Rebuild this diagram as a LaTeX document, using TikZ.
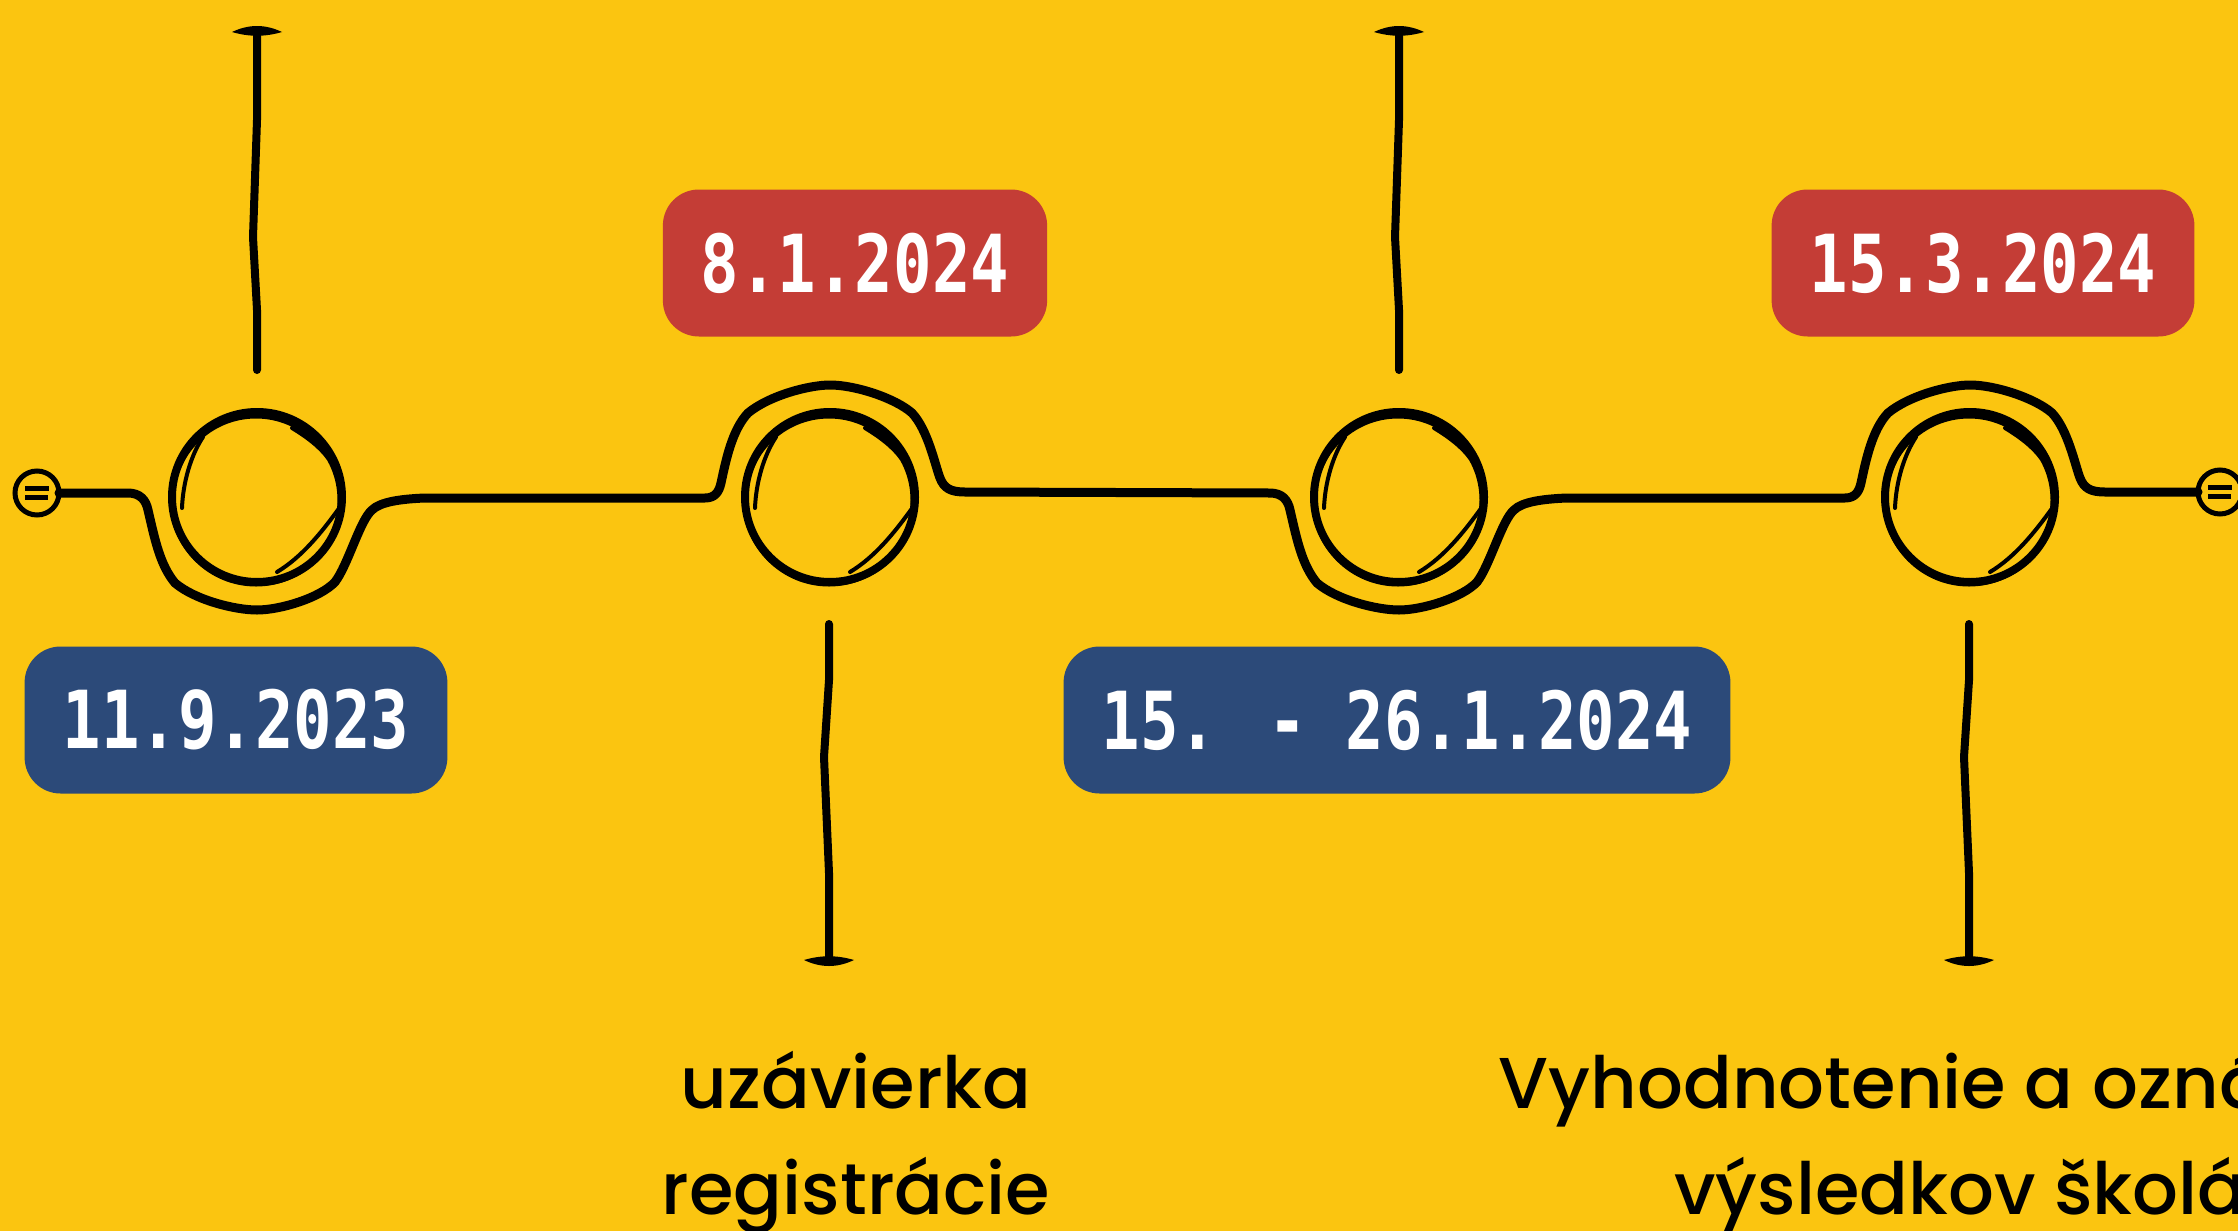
\documentclass[tikz,border=0pt]{standalone}
\usepackage{fontspec}
\setmainfont{Poppins}[UprightFont=* Medium]
\newfontfamily\datefont{DejaVu Sans Mono}[FakeStretch=0.8]
\usepackage{xcolor}
\usetikzlibrary{calc}
\definecolor{bgyellow}{RGB}{251,197,16}
\definecolor{datered}{RGB}{196,61,54}
\definecolor{dateblue}{RGB}{44,74,121}

\begin{document}
\begin{tikzpicture}[x=0.5pt,y=-0.5pt,
  track/.style={line width=4.5pt,line cap=round,line join=round},
  stem/.style={line width=4pt,line cap=round,line join=round},
  datebox/.style={rounded corners=18pt,minimum height=73.5pt,inner xsep=19pt,
    text=white,font=\datefont\bfseries\fontsize{40}{48}\selectfont},
  caption/.style={align=center,anchor=base,font=\fontsize{36}{53}\selectfont}]
\fill[bgyellow] (0,0) rectangle (2238,1231);
\useasboundingbox (0,0) rectangle (2238,1231);
\clip (0,0) rectangle (2238,1231);

\coordinate (c1) at (257,497);
\coordinate (c2) at (830,497);
\coordinate (c3) at (1399,497);
\coordinate (c4) at (1970,497);
\coordinate (k1) at (37,493);
\coordinate (k2) at (2220,492);

\draw[track]
  (59,493)--(128,493)
  .. controls (140,493) and (146,500) .. (148,510)
  .. controls (155,540) and (160,565) .. (175,583)
  .. controls (195,600) and (235,610) .. (257,610)
  .. controls (280,610) and (320,598) .. (335,582)
  .. controls (348,565) and (360,520) .. (372,510)
  .. controls (380,502) and (400,499) .. (425,498)
  --(705,498)
  .. controls (715,498) and (719,492) .. (721,483)
  .. controls (726,460) and (732,430) .. (748,413)
  .. controls (770,395) and (810,385) .. (830,385)
  .. controls (855,385) and (895,398) .. (912,413)
  .. controls (928,430) and (935,465) .. (940,478)
  .. controls (944,488) and (950,492) .. (965,492)
  --(1270,493)
  .. controls (1282,493) and (1288,500) .. (1290,510)
  .. controls (1297,540) and (1302,565) .. (1317,583)
  .. controls (1337,600) and (1377,610) .. (1399,610)
  .. controls (1422,610) and (1462,598) .. (1477,582)
  .. controls (1490,565) and (1502,520) .. (1514,510)
  .. controls (1522,502) and (1542,499) .. (1567,498)
  --(1845,498)
  .. controls (1855,498) and (1859,492) .. (1861,483)
  .. controls (1866,460) and (1872,430) .. (1888,413)
  .. controls (1910,395) and (1950,385) .. (1970,385)
  .. controls (1995,385) and (2035,398) .. (2052,413)
  .. controls (2068,430) and (2075,465) .. (2080,478)
  .. controls (2084,488) and (2090,492) .. (2105,492)
  --(2198,492);

\foreach \k in {k1,k2}{
  \draw[line width=2.5pt] (\k) circle (22);
  \draw[line width=2.5pt] ($(\k)+(-12,-5)$)--($(\k)+(12,-5)$)
                          ($(\k)+(-12,4)$)--($(\k)+(11,4)$);
}

\foreach \c in {c1,c2,c3,c4}{
  \draw[line width=4pt] (\c) circle (85);
  \draw[line width=2.5pt] ($(\c)+(-1,3)$) circle (84);
  \draw[line width=2pt,line cap=round]
    ($(\c)+(-54,-60)$) .. controls ($(\c)+(-66,-42)$) and ($(\c)+(-74,-15)$) .. ($(\c)+(-75,11)$)
    ($(\c)+(35,-69)$) .. controls ($(\c)+(50,-60)$) and ($(\c)+(63,-50)$) .. ($(\c)+(71,-39)$)
    ($(\c)+(83,10)$) .. controls ($(\c)+(65,35)$) and ($(\c)+(45,60)$) .. ($(\c)+(20,75)$);
}

\foreach \c in {c1,c3}{
  \coordinate (s) at ($(\c)+(0,-127)$);
  \coordinate (e) at ($(\c)+(0,-465)$);
  \draw[stem] (s)--++(0,-60)--++(-4,-73)--++(4,-117)--(e);
  \fill ($(e)+(-25,0)$) .. controls ($(e)+(-8,-8)$) and ($(e)+(8,-8)$) .. ($(e)+(25,0)$)
                        .. controls ($(e)+(8,5)$) and ($(e)+(-8,5)$) .. cycle;
}
\foreach \c in {c2,c4}{
  \coordinate (s) at ($(\c)+(-1,127)$);
  \coordinate (e) at ($(\c)+(-1,463)$);
  \draw[stem] (s)--++(0,56)--++(-5,77)--++(5,116)--(e);
  \fill ($(e)+(-25,0)$) .. controls ($(e)+(-8,-5)$) and ($(e)+(8,-5)$) .. ($(e)+(25,0)$)
                        .. controls ($(e)+(8,8)$) and ($(e)+(-8,8)$) .. cycle;
}

\node[datebox,fill=dateblue] (d1) at (236,720) {11.9.2023};
\node[datebox,fill=datered] (d2) at (855,263) {8.1.2024};
\node[datebox,fill=dateblue] (d3) at (1397,720) {15. - 26.1.2024};
\node[datebox,fill=datered] (d4) at (1983,263) {15.3.2024};

\node[caption] (t2) at (856,1214) {uzávierka\\registrácie};
\node[caption] (t4) at (1998,1214) {Vyhodnotenie a oznámenie\\výsledkov školám};
\end{tikzpicture}
\end{document}
